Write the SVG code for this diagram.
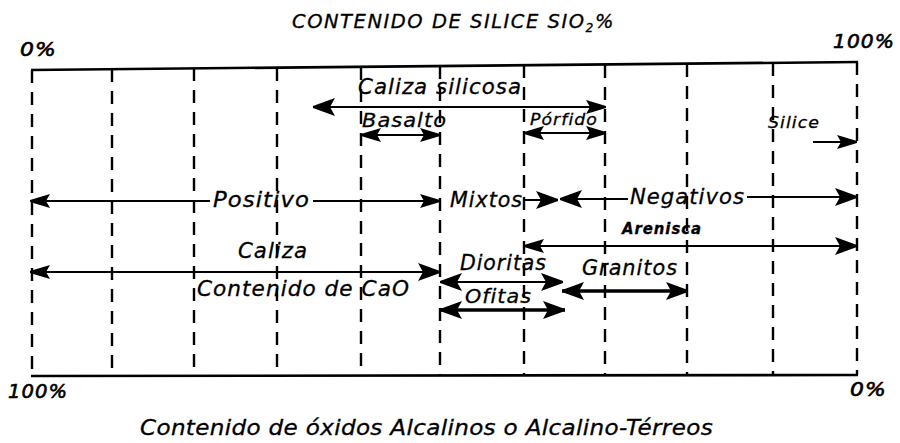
<svg xmlns="http://www.w3.org/2000/svg" width="900" height="443" viewBox="0 0 900 443">
<style>
text{font-family:"DejaVu Sans","Liberation Sans",Arial,sans-serif;font-style:italic;fill:#000;stroke:#000;stroke-width:0.3;letter-spacing:1px}
.pct{stroke-width:0.6}
.frame{stroke:#000;stroke-width:2.6;fill:none}
.grid{stroke:#000;stroke-width:2.4;stroke-dasharray:13 9;fill:none}
.ar{stroke:#000;stroke-width:2.2;fill:none}
.arT{stroke:#000;stroke-width:3.4;fill:none}
.s{marker-start:url(#ah)}
.e{marker-end:url(#ah)}
.sL{marker-start:url(#ahL)}
.eL{marker-end:url(#ahL)}
</style>
<defs>
<marker id="ah" viewBox="0 0 20 14" refX="20" refY="7" markerWidth="20" markerHeight="14" markerUnits="userSpaceOnUse" orient="auto-start-reverse">
<path d="M0,0 L20,6 L20,8 L0,14 L4,7 Z" fill="#000"/>
</marker>
<marker id="ahL" viewBox="0 0 22 18" refX="22" refY="9" markerWidth="22" markerHeight="18" markerUnits="userSpaceOnUse" orient="auto-start-reverse">
<path d="M0,0 L22,8 L22,10 L0,18 L5,9 Z" fill="#000"/>
</marker>
</defs>
<rect width="900" height="443" fill="#fff"/>

<g id="frame">
<line class="frame" x1="31" y1="70" x2="858" y2="62"/>
<line class="frame" x1="31" y1="376" x2="858" y2="375"/>
</g>
<g id="grid">
<line class="grid" x1="32" y1="70" x2="32" y2="376"/>
<line class="grid" x1="112" y1="69" x2="112" y2="376"/>
<line class="grid" x1="194" y1="68" x2="194" y2="376"/>
<line class="grid" x1="277" y1="68" x2="277" y2="376"/>
<line class="grid" x1="361" y1="67" x2="361" y2="376"/>
<line class="grid" x1="440" y1="66" x2="440" y2="376"/>
<line class="grid" x1="524" y1="65" x2="524" y2="375"/>
<line class="grid" x1="605" y1="65" x2="605" y2="375"/>
<line class="grid" x1="687" y1="64" x2="687" y2="375"/>
<line class="grid" x1="773" y1="63" x2="773" y2="375"/>
<line class="grid" x1="857" y1="62" x2="857" y2="375"/>
</g>

<g id="connectors">
<line class="ar sL e" x1="313" y1="107" x2="606" y2="107"/>
<line class="ar s e" x1="361" y1="135" x2="440" y2="135"/>
<line class="ar s e" x1="524" y1="133" x2="606" y2="133"/>
<line class="ar e" x1="813" y1="142" x2="857" y2="142"/>
<line class="ar s" x1="30" y1="201" x2="210" y2="201"/>
<line class="ar e" x1="313" y1="201" x2="440" y2="201"/>
<line class="ar eL" x1="523" y1="200" x2="558" y2="200"/>
<line class="ar sL" x1="560" y1="199" x2="628" y2="199"/>
<line class="ar eL" x1="747" y1="197" x2="857" y2="197"/>
<line class="ar s eL" x1="524" y1="246" x2="857" y2="246"/>
<line class="ar s eL" x1="30" y1="272" x2="440" y2="272"/>
<line class="ar sL eL" x1="440" y1="282" x2="563" y2="282"/>
<line class="arT sL eL" x1="440" y1="310" x2="565" y2="310"/>
<line class="arT sL eL" x1="562" y1="291" x2="688" y2="291"/>
</g>

<g id="title-top"><text x="292" y="28" font-size="19" style="letter-spacing:1.5px" textLength="323" lengthAdjust="spacingAndGlyphs">CONTENIDO DE SILICE SIO<tspan font-size="12" dy="4">2</tspan><tspan dy="-4">%</tspan></text></g>
<g id="pct-top-left"><text class="pct" x="20" y="56" font-size="19" textLength="37" lengthAdjust="spacingAndGlyphs">0%</text></g>
<g id="pct-top-right"><text class="pct" x="833" y="48" font-size="19" textLength="62" lengthAdjust="spacingAndGlyphs">100%</text></g>
<g id="caliza-silicosa"><text x="358" y="94" font-size="21" textLength="164" lengthAdjust="spacingAndGlyphs">Caliza silicosa</text></g>
<g id="basalto"><text x="362" y="127" font-size="20" textLength="85" lengthAdjust="spacingAndGlyphs">Basalto</text></g>
<g id="porfido"><text x="530" y="125" font-size="16" textLength="68" lengthAdjust="spacingAndGlyphs">Pórfido</text></g>
<g id="silice"><text x="768" y="128" font-size="16.5" textLength="52" lengthAdjust="spacingAndGlyphs">Silice</text></g>
<g id="positivo"><text x="213" y="207" font-size="21" textLength="97" lengthAdjust="spacingAndGlyphs">Positivo</text></g>
<g id="mixtos"><text x="450" y="207" font-size="21" textLength="73" lengthAdjust="spacingAndGlyphs">Mixtos</text></g>
<g id="negativos"><text x="630" y="204" font-size="21" textLength="115" lengthAdjust="spacingAndGlyphs">Negativos</text></g>
<g id="arenisca"><text x="622" y="234" font-size="15.5" font-weight="bold" textLength="80" lengthAdjust="spacingAndGlyphs">Arenisca</text></g>
<g id="caliza"><text x="238" y="258" font-size="21" textLength="70" lengthAdjust="spacingAndGlyphs">Caliza</text></g>
<g id="cao"><text x="197" y="296" font-size="21" textLength="213" lengthAdjust="spacingAndGlyphs">Contenido de CaO</text></g>
<g id="dioritas"><text x="460" y="270" font-size="21" textLength="87" lengthAdjust="spacingAndGlyphs">Dioritas</text></g>
<g id="granitos"><text x="582" y="275" font-size="21" textLength="96" lengthAdjust="spacingAndGlyphs">Granitos</text></g>
<g id="ofitas"><text x="465" y="303" font-size="20" textLength="67" lengthAdjust="spacingAndGlyphs">Ofitas</text></g>
<g id="pct-bottom-left"><text class="pct" x="8" y="398" font-size="19" textLength="60" lengthAdjust="spacingAndGlyphs">100%</text></g>
<g id="pct-bottom-right"><text class="pct" x="850" y="396" font-size="19" textLength="37" lengthAdjust="spacingAndGlyphs">0%</text></g>
<g id="title-bottom"><text x="140" y="435" font-size="21" style="letter-spacing:0.3px" textLength="573" lengthAdjust="spacingAndGlyphs">Contenido de óxidos Alcalinos o Alcalino-Térreos</text></g>
</svg>
